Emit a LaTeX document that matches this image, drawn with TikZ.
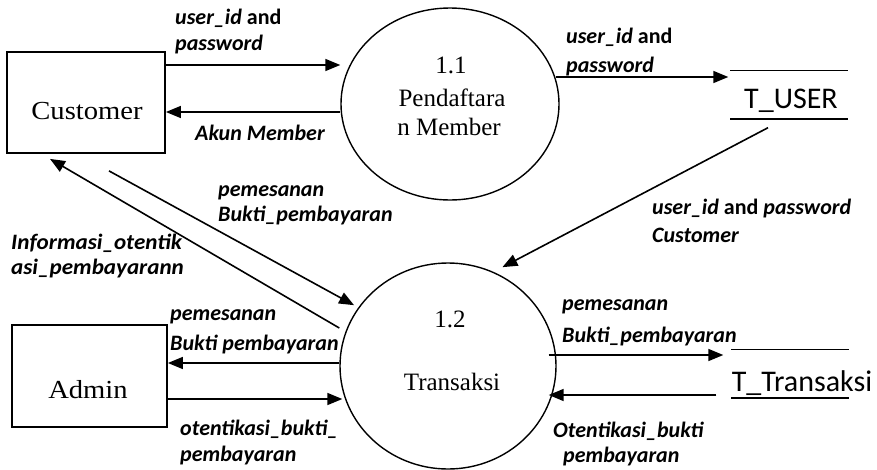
\documentclass[tikz,border=0pt]{standalone}
\usepackage{fontspec}
\usepackage{graphicx}
\setmainfont{Liberation Serif}
\newfontfamily\lblfont{Carlito}
\usetikzlibrary{arrows.meta,shapes.geometric,calc}
\newcommand\sxe[1]{\scalebox{1.1}[1]{#1}}
\begin{document}
\begin{tikzpicture}[x=1pt,y=-1pt,
  flow/.style={line width=1.6pt, -{Triangle[length=15pt,width=12pt]}},
  ent/.style={draw, line width=1.8pt, inner sep=0pt},
  proc/.style={draw, ellipse, line width=1.4pt, inner sep=0pt},
  storebox/.style={inner sep=0pt, minimum width=117pt, minimum height=48pt},
  storeline/.style={line width=1.6pt},
  lab/.style={font=\lblfont\bfseries\fontsize{22}{26}\selectfont, anchor=base west, inner sep=0pt},
  enttxt/.style={font=\fontsize{26}{30}\selectfont, anchor=base, inner sep=0pt},
  proctxt/.style={font=\fontsize{25}{29}\selectfont, anchor=base, inner sep=0pt},
  storetxt/.style={font=\lblfont\fontsize{30}{34}\selectfont, anchor=base, inner sep=0pt}]
\useasboundingbox (0,0) rectangle (877,469);

% entities
\node[ent, minimum width=158pt, minimum height=101pt] (cust) at (86,102.5) {};
\node[enttxt] (custt) at (87,119) {\sxe{Customer}};
\node[ent, minimum width=155pt, minimum height=102pt] (admin) at (89.5,376) {};
\node[enttxt] (admint) at (88,398) {\sxe{Admin}};

% processes
\node[proc, minimum width=218pt, minimum height=192pt] (p11) at (450,104) {};
\node[proctxt] (p11a) at (451,73) {1.1};
\node[proctxt] (p11b) at (452,106) {Pendaftara};
\node[proctxt] (p11c) at (449,135) {n Member};
\node[proc, minimum width=216pt, minimum height=206pt] (p12) at (448,366) {};
\node[proctxt] (p12a) at (450,327) {1.2};
\node[proctxt] (p12b) at (452,390) {Transaksi};

% data stores
\node[storebox] (tuser) at (789,94.5) {};
\draw[storeline] (tuser.north west) -- (tuser.north east);
\draw[storeline] (tuser.south west) -- (tuser.south east);
\node[storetxt] (tusert) at (791,108) {T\_USER};
\node[storebox] (ttr) at (790,373.5) {};
\draw[storeline] (ttr.north west) -- (ttr.north east);
\draw[storeline] (ttr.south west) -- (ttr.south east);
\node[storetxt] (ttrt) at (802,391) {T\_Transaksi};

% flows
\draw[flow] (cust.east |- 0,65) -- (p11.west |- 0,65);
\draw[flow] (p11.west |- 0,112) -- (cust.east |- 0,112);
\draw[flow] ($(p11.east |- 0,77)+(-4,0)$) -- ($(tuser.west |- 0,77)+(-2,0)$);
\draw[flow] ($(tuser.south)+(-21,9)$) -- ($(p12.60)+(2,-8)$);
\draw[flow] ($(cust.south)+(23,17)$) -- ($(p12.148)+(-3,-4)$);
\draw[flow] (p12.west |- 0,328) -- ($(cust.south)+(-36,5)$);
\draw[flow] (p12.west |- 0,363) -- (admin.east |- 0,363);
\draw[flow] (admin.east |- 0,399) -- ($(p12.west |- 0,399)+(3,0)$);
\draw[flow] ($(p12.east |- 0,355)+(-8,0)$) -- ($(ttr.west |- 0,355)+(-8,0)$);
\draw[flow] ($(ttr.west |- 0,395)+(-15,0)$) -- ($(p12.east |- 0,395)+(-8,0)$);

% labels
\node[lab] (l1a) at (175,24) {\textit{user\_id} and};
\node[lab] (l1b) at (175,50) {\textit{password}};
\node[lab] (l2) at (195,140) {\textit{Akun Member}};
\node[lab] (l3a) at (218,196) {\textit{pemesanan}};
\node[lab] (l3b) at (218,221) {\textit{Bukti\_pembayaran}};
\node[lab] (l4a) at (11,249) {\scalebox{1.05}[1]{\textit{Informasi\_otentik}}};
\node[lab] (l4b) at (11,274) {\scalebox{1.05}[1]{\textit{asi\_pembayarann}}};
\node[lab] (l5a) at (170,320) {\textit{pemesanan}};
\node[lab] (l5b) at (170,350) {\textit{Bukti pembayaran}};
\node[lab] (l6a) at (180,435) {\textit{otentikasi\_bukti\_}};
\node[lab] (l6b) at (180,461) {\textit{pembayaran}};
\node[lab] (l7a) at (566,43) {\textit{user\_id} and};
\node[lab] (l7b) at (566,72) {\textit{password}};
\node[lab] (l8a) at (652,214) {\textit{user\_id} and \textit{password}};
\node[lab] (l8b) at (652,242) {\textit{Customer}};
\node[lab] (l9a) at (562,310) {\textit{pemesanan}};
\node[lab] (l9b) at (562,342) {\textit{Bukti\_pembayaran}};
\node[lab] (l10a) at (553,437) {\textit{Otentikasi\_bukti}};
\node[lab] (l10b) at (563,462) {\textit{pembayaran}};
\end{tikzpicture}
\end{document}
